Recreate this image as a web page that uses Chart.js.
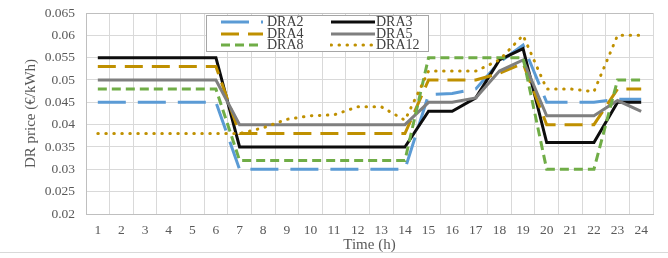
<!DOCTYPE html>
<html>
<head>
<meta charset="utf-8">
<script src="https://cdn.jsdelivr.net/npm/chart.js@4.4.0/dist/chart.umd.min.js"></script>
<style>
  html, body { margin: 0; padding: 0; background: #fff; }
  #wrap { position: relative; width: 668px; height: 258px; }
  #drChart { display: block; }
  #frame { position: absolute; left: 0; right: 0; top: 252px; height: 1px; background: #d9d9d9; }
  #legend { position: absolute; left: 206px; top: 15px; width: 221px; height: 35px;
            background: #fff; border: 1px solid #a6a6a6; font-family: "Liberation Serif", serif;
            font-size: 14px; color: #404040; }
  .item { position: absolute; height: 12px; line-height: 12px; white-space: nowrap; }
  .item svg { position: absolute; top: 0; }
  .item span { position: absolute; top: 0; }
</style>
</head>
<body>
<div id="wrap">
  <canvas id="drChart" width="668" height="258"></canvas>
  <div id="frame"></div>
  <div id="legend"></div>
</div>
<script>
/* DR price per hour */
var hours = ['1','2','3','4','5','6','7','8','9','10','11','12','13','14','15','16','17','18','19','20','21','22','23','24'];
var yTicks = [0.02, 0.025, 0.03, 0.035, 0.04, 0.045, 0.05, 0.055, 0.06, 0.065];

var dra2  = [0.045, 0.045, 0.045, 0.045, 0.045, 0.045, 0.030, 0.030, 0.030, 0.030, 0.030, 0.030, 0.030, 0.030, 0.0467, 0.047, 0.048, 0.054, 0.0578, 0.045, 0.045, 0.045, 0.0457, 0.0457];
var dra3  = [0.055, 0.055, 0.055, 0.055, 0.055, 0.055, 0.035, 0.035, 0.035, 0.035, 0.035, 0.035, 0.035, 0.035, 0.043, 0.043, 0.046, 0.0545, 0.057, 0.036, 0.036, 0.036, 0.045, 0.045];
var dra4  = [0.053, 0.053, 0.053, 0.053, 0.053, 0.053, 0.038, 0.038, 0.038, 0.038, 0.038, 0.038, 0.038, 0.038, 0.050, 0.050, 0.050, 0.0515, 0.0537, 0.040, 0.040, 0.040, 0.048, 0.048];
var dra5  = [0.050, 0.050, 0.050, 0.050, 0.050, 0.050, 0.040, 0.040, 0.040, 0.040, 0.040, 0.040, 0.040, 0.040, 0.045, 0.045, 0.046, 0.052, 0.0545, 0.042, 0.042, 0.042, 0.0454, 0.043];
var dra8  = [0.048, 0.048, 0.048, 0.048, 0.048, 0.048, 0.032, 0.032, 0.032, 0.032, 0.032, 0.032, 0.032, 0.032, 0.055, 0.055, 0.055, 0.055, 0.055, 0.030, 0.030, 0.030, 0.050, 0.050];
var dra12 = [0.038, 0.038, 0.038, 0.038, 0.038, 0.038, 0.038, 0.0393, 0.0412, 0.042, 0.0422, 0.044, 0.044, 0.041, 0.052, 0.052, 0.052, 0.0545, 0.060, 0.048, 0.048, 0.0474, 0.060, 0.060];

var seriesNames = ['DRA2', 'DRA3', 'DRA4', 'DRA5', 'DRA8', 'DRA12'];
var seriesData = [dra2, dra3, dra4, dra5, dra8, dra12];
var seriesColors = ['#5b9bd5', '#0d0d0d', '#bf9000', '#7f7f7f', '#70ad47', '#bf9000'];
var seriesDash = [[28, 12], [], [18, 9], [], [9, 5], [0.5, 7.5]];
var seriesCap = ['butt', 'butt', 'butt', 'butt', 'butt', 'round'];

var datasets = seriesNames.map(function (name, i) {
    return {
        label: name,
        data: seriesData[i],
        borderColor: seriesColors[i],
        backgroundColor: seriesColors[i],
        borderWidth: 3,
        borderDash: seriesDash[i],
        borderCapStyle: seriesCap[i],
        pointRadius: 0,
        tension: 0,
        fill: false,
        order: 6 - i
    };
});

var tickFont = { family: 'Liberation Serif', size: 13.5 };

var ctx = document.getElementById('drChart').getContext('2d');
var myChart = new Chart(ctx, {
    type: 'line',
    data: { labels: hours, datasets: datasets },
    options: {
        responsive: false,
        animation: false,
        layout: { padding: { left: 0, right: 15, top: 13, bottom: 0 } },
        plugins: { legend: { display: false }, tooltip: { enabled: false } },
        scales: {
            x: {
                offset: true,
                grid: {
                    offset: true,
                    drawTicks: false,
                    color: function (c) { return (c.index === 0 || c.index === hours.length) ? '#bfbfbf' : '#d9d9d9'; }
                },
                border: { color: '#bfbfbf' },
                ticks: { font: tickFont, color: '#595959', padding: 8, maxRotation: 0, autoSkip: false },
                title: { display: true, text: 'Time (h)', font: { family: 'Liberation Serif', size: 15 }, color: '#595959', padding: { top: 0, bottom: 4 } },
                afterFit: function (s) { s.height = 44; s.paddingLeft = 0; s.paddingRight = 0; }
            },
            y: {
                min: 0.02,
                max: 0.065,
                afterBuildTicks: function (s) { s.ticks = yTicks.map(function (v) { return { value: v }; }); },
                grid: {
                    drawTicks: false,
                    color: function (c) { return (c.tick && c.tick.value === 0.065) ? '#bfbfbf' : '#d9d9d9'; }
                },
                border: { color: '#bfbfbf' },
                ticks: { font: tickFont, color: '#595959', padding: 11, callback: function (v) { return String(v); } },
                title: { display: true, text: 'DR price (€/kWh)', font: { family: 'Liberation Serif', size: 15 }, color: '#595959', padding: { top: 22, bottom: 0 } },
                afterFit: function (s) { s.width = 86; s.paddingTop = 0; s.paddingBottom = 0; }
            }
        }
    }
});

/* legend, built from the same series */
var legendPos = [[13, 0], [123, 0], [13, 1], [123, 1], [13, 2], [123, 2]];
var legendLen = [42, 44, 42, 44, 42, 44];
var legendTextX = [60, 169, 60, 169, 60, 169];
var legend = document.getElementById('legend');
seriesNames.forEach(function (name, i) {
    var item = document.createElement('div');
    item.className = 'item';
    item.style.left = legendPos[i][0] + 'px';
    item.style.top = (0 + legendPos[i][1] * 11.5) + 'px';
    var len = legendLen[i];
    var dash = seriesDash[i].length ? seriesDash[i].join(' ') : 'none';
    item.innerHTML = '<svg width="' + (len + 2) + '" height="12"><line x1="1" y1="6" x2="' + (len + 1) + '" y2="6" stroke="' + seriesColors[i] +
        '" stroke-width="3" stroke-dasharray="' + dash + '" stroke-linecap="' + seriesCap[i] + '"/></svg>' +
        '<span style="left:' + (legendTextX[i] - legendPos[i][0]) + 'px">' + name + '</span>';
    legend.appendChild(item);
});
</script>
</body>
</html>
